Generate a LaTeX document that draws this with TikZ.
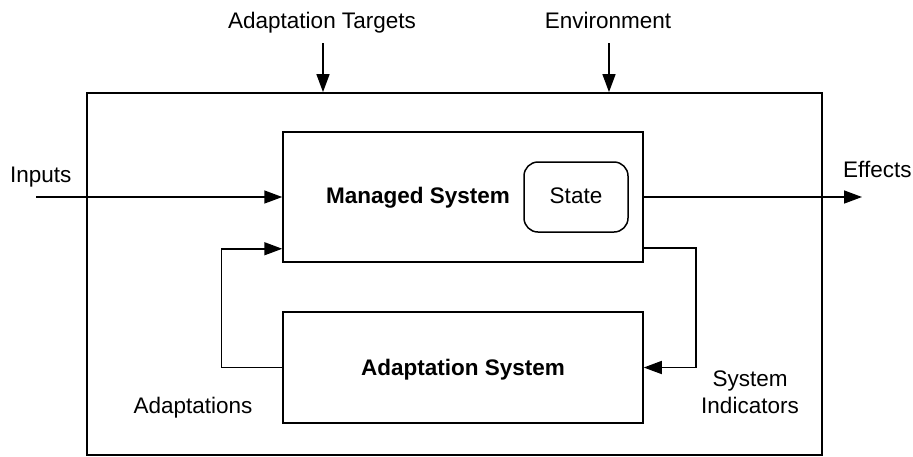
\documentclass[tikz,border=0pt]{standalone}
\usepackage{fontspec}
\setmainfont{Liberation Sans}
\usetikzlibrary{arrows.meta,calc}
\begin{document}
\begin{tikzpicture}[x=1pt,y=-1pt,
  every node/.style={font=\fontsize{22.5}{27}\selectfont, inner sep=0pt},
  boxx/.style={draw, line width=1.5pt, inner sep=0pt},
  arr/.style={line width=1.5pt, -{Triangle[length=18pt,width=13pt]}},
  ln/.style={line width=1.5pt}]
\useasboundingbox (0,0) rectangle (913,456);
% outer box
\node[boxx, line width=1.8pt, minimum width=735pt, minimum height=362pt] (outer) at (454.5,274) {};
% managed system
\node[boxx, minimum width=360pt, minimum height=130pt] (ms) at (463,197) {};
\node[anchor=base, font=\fontsize{22.5}{27}\selectfont\bfseries] (msl) at (418,203) {Managed System};
\node[boxx, rounded corners=14pt, minimum width=104pt, minimum height=70pt] (st) at (576,197) {};
\node[anchor=base] (stl) at (576,203) {State};
% adaptation system
\node[boxx, minimum width=360pt, minimum height=111pt] (as) at (463,367.5) {};
\node[anchor=base, font=\fontsize{22.5}{27}\selectfont\bfseries] (asl) at (463,375) {Adaptation System};
% labels
\node[anchor=base] (lat) at (322,28) {Adaptation Targets};
\node[anchor=base] (lenv) at (608,28) {Environment};
\node[anchor=base west] (lin) at (10,182) {Inputs};
\node[anchor=base west] (leff) at (843,177) {Effects};
\node[anchor=base] (lad) at (193,413) {Adaptations};
\node[anchor=base, align=center] (lsi1) at (750,386) {System};
\node[anchor=base] (lsi2) at (750,413) {Indicators};
% coordinates
\coordinate (atS) at (323,43);
\coordinate (envS) at (609,43);
\coordinate (inS) at (36,197);
\coordinate (effE) at (862,197);
% connectors
\draw[arr] (atS) -- (atS |- outer.north);
\draw[arr] (envS) -- (envS |- outer.north);
\draw[arr] (inS) -- (ms.west);
\draw[arr] (ms.east) -- (effE);
\draw[arr] (as.west) -- ++(-61,0) |- ([yshift=14pt]ms.south west);
\draw[arr] ([yshift=15pt]ms.south east) -- ++(52,0) |- (as.east);
\end{tikzpicture}
\end{document}
